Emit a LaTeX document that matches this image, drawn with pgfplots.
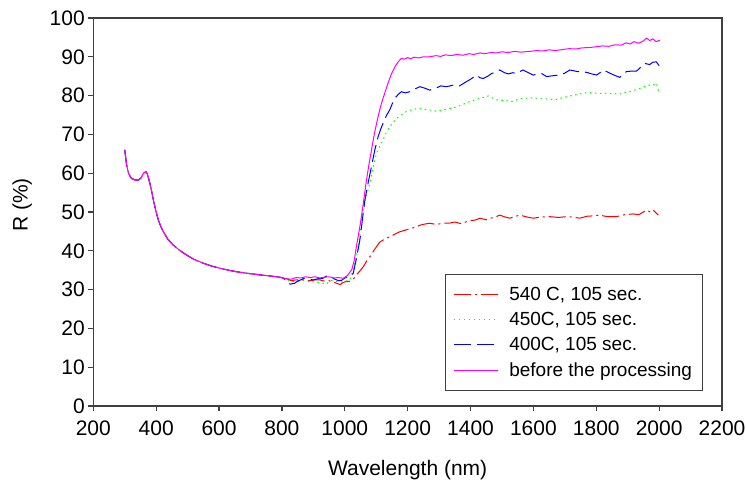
\documentclass[border=0pt]{standalone}
\usepackage{fontspec}
\setmainfont{Liberation Sans}
\usepackage{pgfplots}
\pgfplotsset{compat=1.18}
\definecolor{axgray}{HTML}{404040}
\definecolor{cred}{HTML}{FF0000}
\definecolor{cgreen}{HTML}{00FF00}
\definecolor{cblue}{HTML}{0000FF}
\definecolor{cmag}{HTML}{FF00FF}
\begin{document}
\begin{tikzpicture}[x=1pt,y=1pt]
\useasboundingbox (-93.3,-83) rectangle (652.7,406);
\begin{axis}[
  at={(0,0)}, anchor=south west,
  scale only axis, width=628.7pt, height=388pt,
  xmin=200, xmax=2200, ymin=0, ymax=100,
  xtick={200,400,...,2200}, ytick={0,10,...,100},
  tick align=outside, tick pos=left, major tick length=5pt,
  axis line style={axgray, line width=1.2pt},
  every tick/.style={axgray, line width=1.2pt},
  /pgf/number format/assume math mode=true,
  /pgf/number format/1000 sep={},
  ticklabel style={font=\fontsize{21}{25}\selectfont},
  xticklabel style={yshift=-6pt},
  label style={font=\fontsize{21}{25}\selectfont},
  xlabel={Wavelength (nm)},
  ylabel={R (\%)},
  xlabel style={at={(axis description cs:0.5,-0.165)}, anchor=center},
  ylabel style={at={(axis description cs:-0.113,0.518)}, anchor=center},
  legend style={at={(0.969,0.0387)}, anchor=south east, draw=axgray, line width=1pt,
    font=\fontsize{19}{23}\selectfont, cells={anchor=west},
    inner xsep=8pt, inner ysep=10.5pt, row sep=6.5pt, column sep=9pt},
  legend image code/.code={\draw[#1] (0pt,0pt) -- (44pt,0pt);},
]
% 540 C, 105 sec.
\addplot[color=cred, draw=cred, line width=1pt, dash pattern=on 17pt off 4pt on 2pt off 4pt] coordinates {
(300,66.0)(303,64.0)(306,62.1)(312,60.0)(320,58.8)(330,58.3)(343,58.2)(352,58.8)(360,60.0)(367,60.4)(372,59.8)(380,57.4)(386,55.2)(391,53.1)(399,50.3)(407,47.9)(415,46.2)(423,44.9)(437,43.0)(454,41.5)(475,40.1)(497,38.9)(520,37.8)(550,36.8)(575,36.1)(603,35.5)(630,35.0)(656,34.6)(690,34.2)(730,33.8)(765,33.5)(794,33.2)
(815,32.8)(830,32.3)(845,32.5)(860,32.6)(875,32.4)(890,32.3)(905,32.5)(920,32.5)(935,32.2)(950,32.3)(965,31.9)(975,31.6)(985,31.3)(993,31.7)(1000,32.0)(1010,32.1)(1020,32.2)(1030,33.0)(1037,33.8)(1048,34.8)(1059,35.9)(1070,37.4)(1080,38.5)(1096,40.5)(1112,42.3)(1127,43.0)(1143,43.6)(1160,44.3)(1175,44.9)(1200,45.5)(1228,46.2)(1239,46.6)(1255,46.9)(1270,47.1)(1290,46.8)(1313,47.1)(1330,47.1)(1350,47.4)(1370,47.0)(1387,47.5)(1400,47.8)(1415,47.9)(1430,48.4)(1450,48.0)(1472,48.6)(1485,48.9)(1493,49.2)(1510,48.7)(1525,48.4)(1540,48.8)(1557,49.2)(1575,48.8)(1599,48.4)(1625,48.7)(1652,48.8)(1680,48.6)(1705,48.8)(1725,48.7)(1748,48.4)(1770,48.9)(1790,49.0)(1811,49.2)(1835,48.8)(1864,48.8)(1890,49.3)(1917,49.5)(1935,49.3)(1950,50.0)(1960,50.5)(1972,50.0)(1981,50.5)(1997,49.2)
};
\addlegendentry{540 C, 105 sec.}
% 450C, 105 sec.
\addplot[color=cgreen, draw=cgreen, line width=1pt, dash pattern=on 1.5pt off 3.5pt] coordinates {
(300,66.0)(303,64.0)(306,62.1)(312,60.0)(320,58.8)(330,58.3)(343,58.2)(352,58.8)(360,60.0)(367,60.4)(372,59.8)(380,57.4)(386,55.2)(391,53.1)(399,50.3)(407,47.9)(415,46.2)(423,44.9)(437,43.0)(454,41.5)(475,40.1)(497,38.9)(520,37.8)(550,36.8)(575,36.1)(603,35.5)(630,35.0)(656,34.6)(690,34.2)(730,33.8)(765,33.5)(794,33.2)
(810,32.8)(820,32.3)(835,32.1)(850,32.0)(865,32.3)(880,32.2)(895,32.0)(910,31.9)(925,31.8)(940,31.4)(950,32.0)(960,32.4)(975,32.1)(990,32.0)(1003,32.2)(1016,32.5)(1028,35.5)(1036,38.0)(1043,41.1)(1051,46.5)(1059,51.4)(1070,54.5)(1080,57.4)(1090,61.5)(1101,65.1)(1112,67.0)(1122,68.6)(1132,70.5)(1143,72.0)(1155,73.2)(1165,74.1)(1180,75.0)(1196,75.9)(1215,76.4)(1233,76.7)(1250,76.5)(1270,76.3)(1290,76.0)(1313,76.3)(1335,76.7)(1356,77.1)(1378,77.8)(1398,78.5)(1415,78.9)(1430,79.3)(1445,79.6)(1456,79.9)(1470,79.4)(1483,78.9)(1510,78.7)(1536,78.5)(1550,79.0)(1567,79.3)(1595,79.4)(1620,79.3)(1645,79.1)(1673,79.0)(1695,79.5)(1716,79.9)(1745,80.4)(1774,80.8)(1800,80.6)(1832,80.6)(1855,80.5)(1875,80.4)(1890,80.8)(1907,81.0)(1920,81.4)(1938,81.8)(1952,82.3)(1965,82.7)(1978,82.6)(1991,83.2)(2000,80.6)
};
\addlegendentry{450C, 105 sec.}
% 400C, 105 sec.
\addplot[color=cblue, draw=cblue, line width=1pt, dash pattern=on 17pt off 6pt] coordinates {
(300,66.0)(303,64.0)(306,62.1)(312,60.0)(320,58.8)(330,58.3)(343,58.2)(352,58.8)(360,60.0)(367,60.4)(372,59.8)(380,57.4)(386,55.2)(391,53.1)(399,50.3)(407,47.9)(415,46.2)(423,44.9)(437,43.0)(454,41.5)(475,40.1)(497,38.9)(520,37.8)(550,36.8)(575,36.1)(603,35.5)(630,35.0)(656,34.6)(690,34.2)(730,33.8)(765,33.5)(794,33.2)
(805,32.9)(815,32.2)(826,31.4)(840,31.6)(850,32.2)(860,32.5)(870,32.9)(880,32.8)(890,32.6)(900,32.5)(915,32.8)(930,32.9)(940,33.4)(947,33.8)(955,33.5)(965,32.8)(980,32.3)(990,32.4)(1000,33.0)(1010,33.2)(1018,33.5)(1027,34.2)(1037,38.0)(1048,42.8)(1056,48.0)(1064,53.1)(1075,57.8)(1085,61.7)(1095,65.8)(1106,69.4)(1114,71.3)(1122,72.9)(1132,74.8)(1143,76.3)(1151,77.9)(1159,79.3)(1170,80.3)(1180,81.0)(1192,80.7)(1207,81.0)(1220,81.6)(1239,82.3)(1255,81.9)(1270,81.4)(1290,81.9)(1305,82.5)(1324,82.3)(1345,82.7)(1365,82.5)(1387,83.6)(1400,84.2)(1419,85.3)(1430,84.6)(1440,84.4)(1455,85.0)(1467,85.7)(1480,86.0)(1493,86.6)(1508,85.9)(1520,85.6)(1535,85.9)(1546,85.7)(1557,86.2)(1567,86.6)(1582,86.0)(1599,85.3)(1612,85.5)(1626,85.7)(1642,84.9)(1660,85.1)(1684,85.3)(1700,85.8)(1716,86.6)(1740,86.2)(1769,86.0)(1785,85.6)(1801,85.3)(1812,85.9)(1822,86.6)(1835,86.1)(1848,85.6)(1862,85.1)(1875,84.7)(1885,85.4)(1896,86.2)(1912,86.3)(1928,86.3)(1940,87.2)(1954,88.3)(1970,88.0)(1980,88.6)(1991,88.7)(2002,87.5)
};
\addlegendentry{400C, 105 sec.}
% before the processing
\addplot[color=cmag, draw=cmag, line width=1pt] coordinates {
(300,66.0)(303,64.0)(306,62.1)(312,60.0)(320,58.8)(330,58.3)(343,58.2)(352,58.8)(360,60.0)(367,60.4)(372,59.8)(380,57.4)(386,55.2)(391,53.1)(399,50.3)(407,47.9)(415,46.2)(423,44.9)(437,43.0)(454,41.5)(475,40.1)(497,38.9)(520,37.8)(550,36.8)(575,36.1)(603,35.5)(630,35.0)(656,34.6)(690,34.2)(730,33.8)(765,33.5)(794,33.2)
(810,32.8)(830,32.7)(845,33.1)(860,33.0)(875,33.3)(890,33.1)(905,33.3)(920,33.0)(935,33.2)(950,33.3)(965,33.0)(980,33.1)(995,32.9)(1008,33.6)(1022,35.1)(1030,37.5)(1037,41.1)(1045,44.8)(1053,48.8)(1061,53.5)(1069,58.2)(1077,62.3)(1085,66.0)(1095,70.5)(1106,74.6)(1116,77.8)(1127,80.6)(1138,83.3)(1149,85.7)(1160,87.5)(1170,88.7)(1180,89.6)(1190,89.4)(1200,89.8)(1210,89.5)(1220,89.9)(1235,89.7)(1250,90.0)(1270,90.0)(1290,90.3)(1305,90.1)(1320,90.5)(1340,90.3)(1355,90.6)(1376,90.4)(1395,90.8)(1410,90.6)(1430,91.0)(1445,90.8)(1465,91.1)(1483,91.0)(1500,91.3)(1520,91.1)(1540,91.4)(1560,91.2)(1589,91.4)(1610,91.6)(1630,91.5)(1650,91.8)(1670,91.6)(1694,91.9)(1715,92.1)(1735,92.0)(1755,92.3)(1780,92.4)(1801,92.6)(1820,92.8)(1840,92.7)(1860,93.1)(1880,93.0)(1895,93.6)(1907,93.3)(1920,93.9)(1935,93.5)(1950,94.1)(1960,94.8)(1970,94.2)(1980,94.6)(1990,93.9)(2002,94.3)
};
\addlegendentry{before the processing}
\end{axis}
\end{tikzpicture}
\end{document}
